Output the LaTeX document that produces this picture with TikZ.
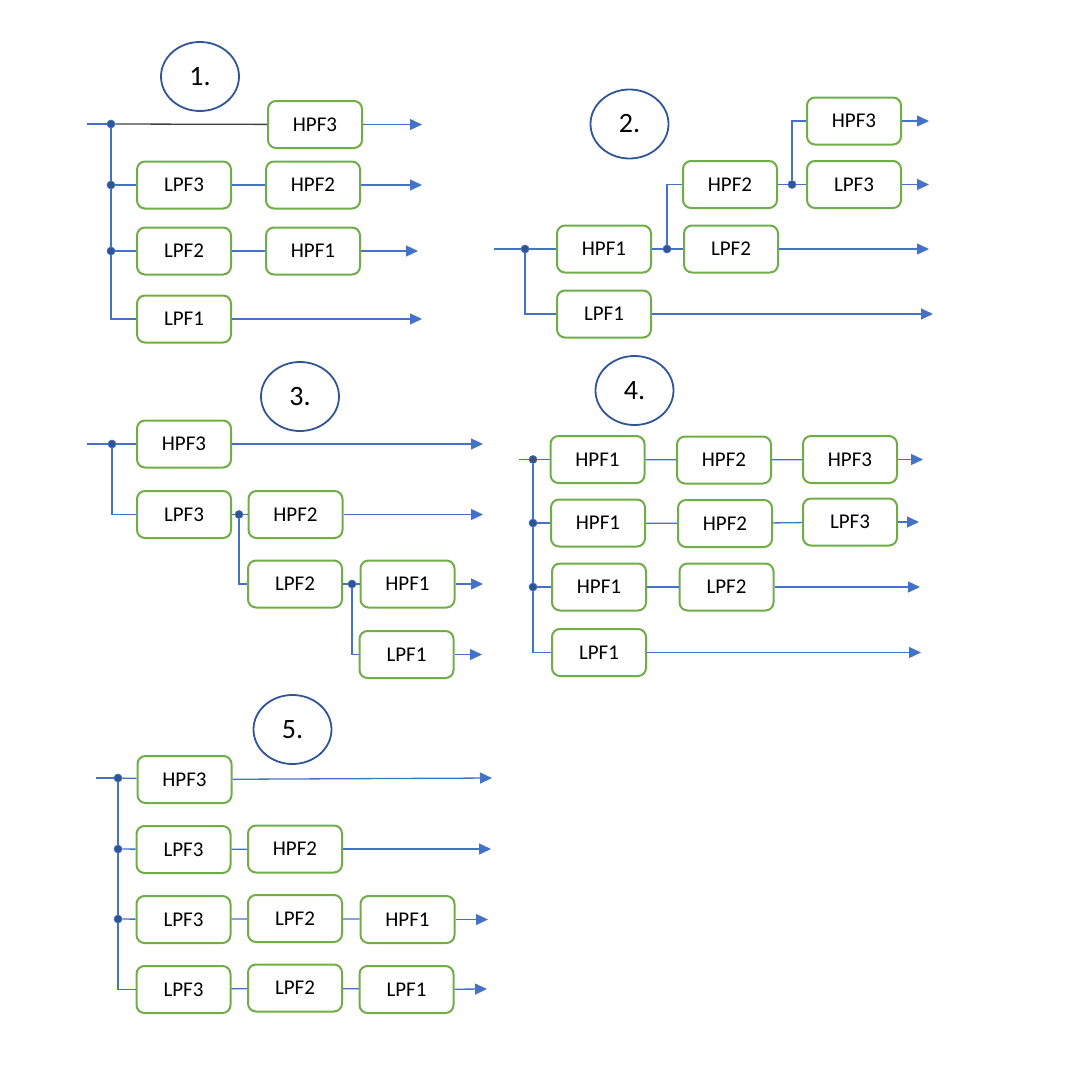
\documentclass[tikz,border=0pt]{standalone}
\usepackage{fontspec}
\setmainfont{Carlito}
\usetikzlibrary{arrows.meta,shapes.geometric}
\definecolor{boxgreen}{HTML}{70AD47}
\definecolor{lineblue}{HTML}{4472C4}
\definecolor{darkblue}{HTML}{2F5597}
\definecolor{darkgray}{HTML}{404040}
\begin{document}
\begin{tikzpicture}[x=1pt,y=-1pt,
  filt/.style={draw=boxgreen,line width=2pt,rounded corners=8pt,minimum width=94pt,minimum height=47pt,inner sep=0pt,font=\fontsize{21}{21}\selectfont},
  lbl/.style={draw=darkblue,line width=1.8pt,ellipse,minimum width=78pt,minimum height=69pt,inner sep=0pt,font=\fontsize{28}{28}\selectfont},
  jn/.style={circle,fill=darkblue,draw=lineblue,line width=0.6pt,minimum size=8pt,inner sep=0pt},
  wire/.style={draw=lineblue,line width=1.3pt},
  arr/.style={wire,-{Triangle[length=12pt,width=11pt]}}
]
\useasboundingbox (0,0) rectangle (1070,1071);

% ---------------- Diagram 1 ----------------
\node[lbl] (c1) at (200,76.5) {1.};
\coordinate (in1) at (87,124);
\node[jn] (j1a) at (111,124) {};
\node[jn] (j1b) at (111,185) {};
\node[jn] (j1c) at (111,251) {};
\node[filt] (d1h3) at (315,124.5) {HPF3};
\node[filt] (d1l3) at (184,185) {LPF3};
\node[filt] (d1h2) at (313,185) {HPF2};
\node[filt] (d1l2) at (184,251) {LPF2};
\node[filt] (d1h1) at (313,251) {HPF1};
\node[filt] (d1l1) at (184,319) {LPF1};
\coordinate (o1a) at (422,124.5);
\coordinate (o1b) at (422,185);
\coordinate (o1c) at (418,251);
\coordinate (o1d) at (422,319);
\draw[wire] (in1) -- (j1a);
\draw[draw=darkgray,line width=1.3pt] (j1a) -- (d1h3);
\draw[wire] (j1a) -- (j1b);
\draw[wire] (j1b) -- (j1c);
\draw[wire] (j1c) |- (d1l1.west);
\draw[wire] (j1b) -- (d1l3);
\draw[wire] (d1l3) -- (d1h2);
\draw[wire] (j1c) -- (d1l2);
\draw[wire] (d1l2) -- (d1h1);
\draw[arr] (d1h3) -- (o1a);
\draw[arr] (d1h2) -- (o1b);
\draw[arr] (d1h1) -- (o1c);
\draw[arr] (d1l1) -- (o1d);

% ---------------- Diagram 2 ----------------
\node[lbl] (c2) at (629.5,124) {2.};
\coordinate (in2) at (494,249);
\node[jn] (j2a) at (525,249) {};
\node[filt] (d2h1) at (604,249) {HPF1};
\node[jn] (j2b) at (667,249) {};
\node[filt] (d2l2) at (731,249) {LPF2};
\node[filt] (d2l1) at (604,314) {LPF1};
\node[filt] (d2h2) at (730,184.5) {HPF2};
\node[jn] (j2c) at (792,184.5) {};
\node[filt] (d2l3) at (854,184.5) {LPF3};
\node[filt] (d2h3) at (854,121) {HPF3};
\coordinate (o2a) at (929,121);
\coordinate (o2b) at (929,184.5);
\coordinate (o2c) at (929,249);
\coordinate (o2d) at (933,314);
\draw[wire] (in2) -- (j2a);
\draw[wire] (j2a) -- (d2h1);
\draw[wire] (j2a) |- (d2l1.west);
\draw[wire] (d2h1) -- (j2b);
\draw[wire] (j2b) -- (d2l2);
\draw[wire] (j2b) |- (d2h2.west);
\draw[wire] (d2h2) -- (j2c);
\draw[wire] (j2c) -- (d2l3);
\draw[wire] (j2c) |- (d2h3.west);
\draw[arr] (d2h3) -- (o2a);
\draw[arr] (d2l3) -- (o2b);
\draw[arr] (d2l2) -- (o2c);
\draw[arr] (d2l1) -- (o2d);

% ---------------- Diagram 3 ----------------
\node[lbl] (c3) at (300,396.5) {3.};
\coordinate (in3) at (87,444);
\node[jn] (j3a) at (112,444) {};
\node[filt] (d3h3) at (184,444) {HPF3};
\node[filt] (d3l3) at (184,514.5) {LPF3};
\node[jn] (j3b) at (239,514.5) {};
\node[filt] (d3h2) at (295.5,514.5) {HPF2};
\node[filt] (d3l2) at (295,584) {LPF2};
\node[jn] (j3c) at (352,584) {};
\node[filt] (d3h1) at (407.5,584) {HPF1};
\node[filt] (d3l1) at (406.5,654.5) {LPF1};
\coordinate (o3a) at (483,444);
\coordinate (o3b) at (483,514.5);
\coordinate (o3c) at (483,584);
\coordinate (o3d) at (482,654.5);
\draw[wire] (in3) -- (j3a);
\draw[wire] (j3a) -- (d3h3);
\draw[wire] (j3a) |- (d3l3.west);
\draw[wire] (d3l3) -- (j3b);
\draw[wire] (j3b) -- (d3h2);
\draw[wire] (j3b) |- (d3l2.west);
\draw[wire] (d3l2) -- (j3c);
\draw[wire] (j3c) -- (d3h1);
\draw[wire] (j3c) |- (d3l1.west);
\draw[arr] (d3h3) -- (o3a);
\draw[arr] (d3h2) -- (o3b);
\draw[arr] (d3h1) -- (o3c);
\draw[arr] (d3l1) -- (o3d);

% ---------------- Diagram 4 ----------------
\node[lbl] (c4) at (634.5,390.5) {4.};
\coordinate (in4) at (519,459.5);
\node[jn] (j4a) at (533,459.5) {};
\node[jn] (j4b) at (533,523) {};
\node[jn] (j4c) at (533,587) {};
\node[filt] (d4a1) at (597.5,459.5) {HPF1};
\node[filt] (d4a2) at (724,460) {HPF2};
\node[filt] (d4a3) at (850,459.5) {HPF3};
\node[filt] (d4b1) at (598,523) {HPF1};
\node[filt] (d4b2) at (725,523.5) {HPF2};
\node[filt] (d4b3) at (850,522) {LPF3};
\node[filt] (d4c1) at (599,587) {HPF1};
\node[filt] (d4c2) at (726.5,587) {LPF2};
\node[filt] (d4d1) at (599,652.5) {LPF1};
\coordinate (o4a) at (923,459.5);
\coordinate (o4b) at (919,522);
\coordinate (o4c) at (920,587);
\coordinate (o4d) at (921,652.5);
\draw[wire] (in4) -- (j4a);
\draw[wire] (j4a) -- (j4b);
\draw[wire] (j4b) -- (j4c);
\draw[wire] (j4c) |- (d4d1.west);
\draw[wire] (j4a) -- (d4a1);
\draw[wire] (d4a1) -- (d4a2);
\draw[wire] (d4a2) -- (d4a3);
\draw[wire] (j4b) -- (d4b1);
\draw[wire] (d4b1) -- (d4b2);
\draw[wire] (d4b2) -- (d4b3);
\draw[wire] (j4c) -- (d4c1);
\draw[wire] (d4c1) -- (d4c2);
\draw[arr] (d4a3) -- (o4a);
\draw[arr] (d4b3) -- (o4b);
\draw[arr] (d4c2) -- (o4c);
\draw[arr] (d4d1) -- (o4d);

% ---------------- Diagram 5 ----------------
\node[lbl] (c5) at (292.5,729.5) {5.};
\coordinate (in5) at (96,778);
\node[jn] (j5a) at (118,778) {};
\node[jn] (j5b) at (118,849) {};
\node[jn] (j5c) at (118,919) {};
\node[filt] (d5a1) at (184.5,779.5) {HPF3};
\node[filt] (d5b1) at (183.5,849.5) {LPF3};
\node[filt] (d5b2) at (295,849) {HPF2};
\node[filt] (d5c1) at (183.5,919.5) {LPF3};
\node[filt] (d5c2) at (295,918.5) {LPF2};
\node[filt] (d5c3) at (407.5,919.5) {HPF1};
\node[filt] (d5d1) at (183.5,989.5) {LPF3};
\node[filt] (d5d2) at (295,988) {LPF2};
\node[filt] (d5d3) at (406.5,989.5) {LPF1};
\coordinate (o5a) at (492,778);
\coordinate (o5b) at (491,849);
\coordinate (o5c) at (488,919.5);
\coordinate (o5d) at (487,989);
\draw[wire] (in5) -- (j5a);
\draw[wire] (j5a) -- (j5b);
\draw[wire] (j5b) -- (j5c);
\draw[wire] (j5c) |- (d5d1.west);
\draw[wire] (j5a) -- (d5a1);
\draw[wire] (j5b) -- (d5b1);
\draw[wire] (d5b1) -- (d5b2);
\draw[wire] (j5c) -- (d5c1);
\draw[wire] (d5c1) -- (d5c2);
\draw[wire] (d5c2) -- (d5c3);
\draw[wire] (d5d1) -- (d5d2);
\draw[wire] (d5d2) -- (d5d3);
\draw[arr] (d5a1) -- (o5a);
\draw[arr] (d5b2) -- (o5b);
\draw[arr] (d5c3) -- (o5c);
\draw[arr] (d5d3) -- (o5d);
\end{tikzpicture}
\end{document}
